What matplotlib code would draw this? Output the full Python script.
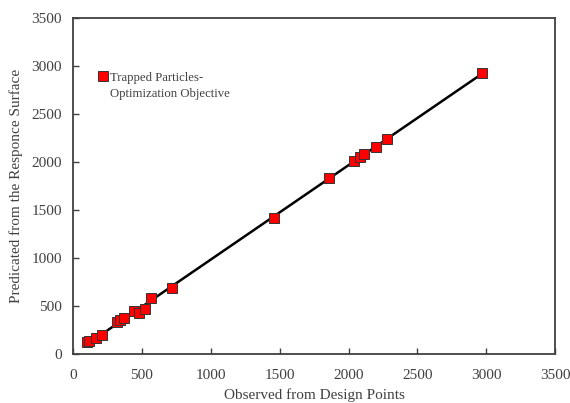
import matplotlib
matplotlib.use("Agg")
import matplotlib.pyplot as plt
import numpy as np

# valores
observado = [105, 120, 170, 210, 320, 345, 370, 440, 480, 520, 570, 720,
             1460, 1860, 2040, 2080, 2110, 2200, 2280, 2970]
predito = [120, 135, 170, 200, 330, 350, 370, 450, 430, 470, 580, 690,
           1420, 1830, 2010, 2050, 2080, 2160, 2240, 2930]
ticks = [0, 500, 1000, 1500, 2000, 2500, 3000, 3500]

plt.rcParams['font.family'] = ['Liberation Serif', 'DejaVu Serif']
cor_texto = '#404040'

fig = plt.figure(figsize=(5.7, 4.03), dpi=100)
ax = fig.add_axes([0.128, 0.1216, 0.846, 0.8337])

# linha de tendência (ajuste linear)
a, b = np.polyfit(observado, predito, 1)
xs = np.array([min(observado), max(observado)])
ax.plot(xs, a * xs + b, color='black', lw=1.8, zorder=2)

ax.plot(observado, predito, 's', ms=7, mfc='#ff0000', mec='#333333', mew=0.7,
        ls='none', zorder=3, label='Trapped Particles-')

ax.set_xlim(0, 3500)
ax.set_ylim(0, 3500)
ax.set_xticks(ticks)
ax.set_yticks(ticks)
ax.tick_params(direction='in', length=4, width=1, colors='#404040',
               labelcolor=cor_texto, labelsize=11)
ax.tick_params(axis='x', pad=11)
ax.tick_params(axis='y', pad=8)
for s in ax.spines.values():
    s.set_color('#404040')
    s.set_linewidth(1.3)

ax.set_xlabel('Observed from Design Points', fontsize=11, color=cor_texto, labelpad=4)
ax.set_ylabel('Predicated from the Responce Surface', fontsize=11, color=cor_texto, labelpad=6)

leg = ax.legend(loc='upper left', bbox_to_anchor=(0.045, 0.855), frameon=False,
                fontsize=9.2, handlelength=0.5, handletextpad=0.3, borderaxespad=0,
                markerscale=1.0)
leg.get_texts()[0].set_color(cor_texto)

# segunda linha da legenda, alinhada ao texto
fig.canvas.draw()
bb = leg.get_texts()[0].get_window_extent().transformed(ax.transAxes.inverted())
ax.text(bb.x0, bb.y0 - 0.012, 'Optimization Objective', transform=ax.transAxes,
        fontsize=9.2, color=cor_texto, va='top', ha='left')

fig.savefig('out.png', dpi=100)
